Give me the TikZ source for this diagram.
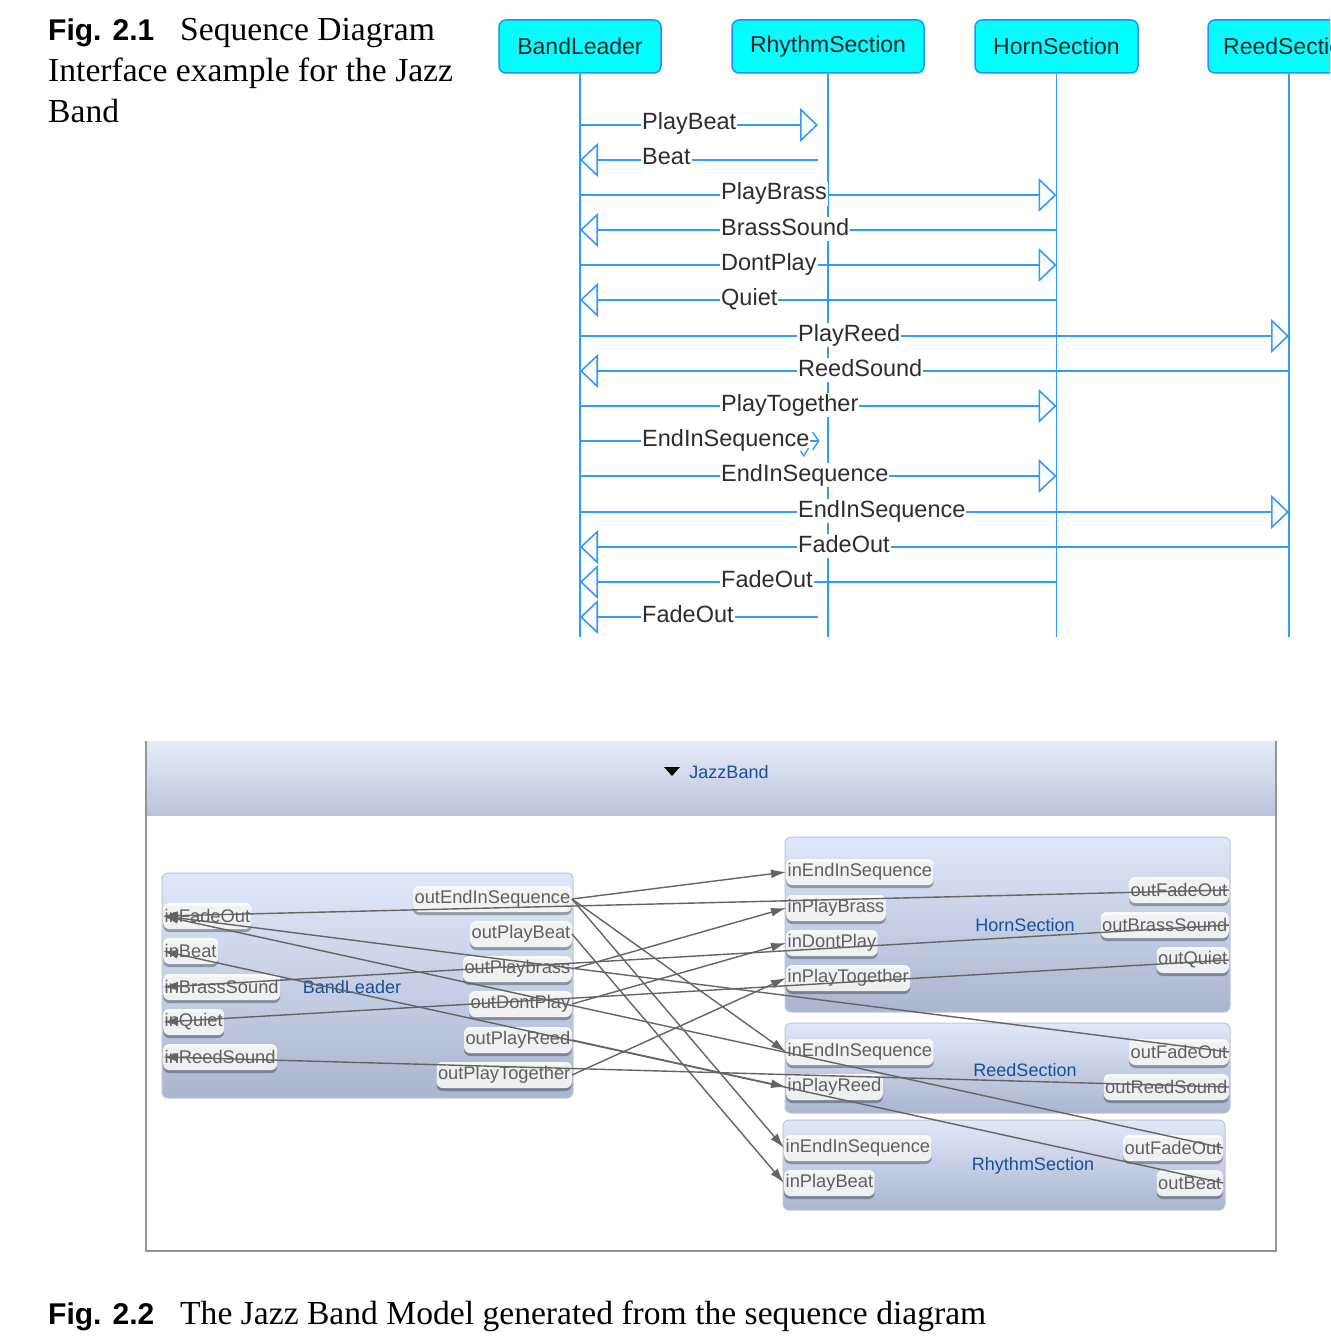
\documentclass[tikz,border=0pt]{standalone}
\usepackage{fontspec}
\setmainfont{Liberation Serif}
\setsansfont{Liberation Sans}
\usetikzlibrary{arrows.meta,shadows}
\definecolor{seqblue}{RGB}{51,153,255}
\definecolor{headcyan}{RGB}{0,255,255}
\definecolor{headborder}{RGB}{30,144,255}
\definecolor{lbltext}{RGB}{45,45,45}
\definecolor{boxtop}{RGB}{224,231,250}
\definecolor{boxbot}{RGB}{170,182,207}
\definecolor{boxedge}{RGB}{190,198,215}
\definecolor{hdrtop}{RGB}{230,235,248}
\definecolor{hdrbot}{RGB}{186,196,218}
\definecolor{modelblue}{RGB}{26,79,150}
\definecolor{porttext}{RGB}{95,95,95}
\definecolor{wire}{RGB}{100,100,100}
\definecolor{framegray}{RGB}{150,150,150}
\begin{document}
\begin{tikzpicture}[x=1pt,y=-1pt,
  seqhead/.style={draw=headborder,line width=1.5pt,fill=headcyan,rounded corners=7pt,
    minimum width=162pt,minimum height=53pt,inner sep=0pt,
    font=\sffamily\fontsize{23}{23}\selectfont,text=black!85},
  life/.style={draw=seqblue,line width=1.6pt},
  msgline/.style={draw=seqblue,line width=1.6pt},
  opentip/.style={-{Triangle[length=18pt,width=34pt,fill=white,line width=1.6pt]}},
  mlabel/.style={fill=white,inner xsep=1pt,inner ysep=1pt,anchor=base west,
    text height=17pt,text depth=5pt,
    font=\sffamily\fontsize{23.5}{23.5}\selectfont,text=lbltext},
  capserif/.style={anchor=base west,inner sep=0pt,font=\fontsize{33.6}{41}\selectfont,text=black},
  capfig/.style={anchor=base west,inner sep=0pt,font=\sffamily\bfseries\fontsize{30}{41}\selectfont,text=black},
  modbox/.style={draw=boxedge,line width=1pt,rounded corners=6pt,top color=boxtop,bottom color=boxbot,inner sep=0pt},
  modname/.style={font=\sffamily\fontsize{18}{18}\selectfont,text=modelblue,inner sep=1pt},
  port/.style={fill=white,fill opacity=0.88,text opacity=1,rounded corners=6pt,
    inner xsep=1.5pt,inner ysep=0pt,minimum height=26pt,
    font=\sffamily\fontsize{18.3}{18.3}\selectfont,text=porttext,
    drop shadow={shadow xshift=0pt,shadow yshift=-3pt,fill=black,opacity=0.3}},
  lport/.style={port,anchor=west},
  rport/.style={port,anchor=east},
  wirest/.style={draw=wire,line width=1.4pt},
  wirearrow/.style={wirest,-{Latex[length=15pt,width=9pt]}}
]
\clip (0,0) rectangle (1330,1343);
\useasboundingbox (0,0) rectangle (1330,1343);
\fill[white] (0,0) rectangle (1330,1343);

% ---------------- Caption Fig 2.1 ----------------
\node[capfig] (c1a) at (48,41) {Fig. 2.1};
\node[capserif] (c1b) at (180,41) {Sequence Diagram};
\node[capserif] (c1c) at (48,82) {Interface example for the Jazz};
\node[capserif] (c1d) at (48,123) {Band};

% ---------------- Sequence diagram ----------------
\node[seqhead] (bl) at (580,46.5) {BandLeader};
\node[seqhead,minimum width=192pt] (rs) at (828,46.5) {RhythmSection};
\node[seqhead,minimum width=163pt] (hs) at (1056.5,46.5) {HornSection};
\node[seqhead] (re) at (1289,46.5) {ReedSection};

\coordinate (bot) at (0,637);
\coordinate (rsA) at (818,637);
\draw[life] (bl.south) -- (bl.south |- bot);
\draw[life] (rs.south) -- (rs.south |- bot);
\draw[life] (hs.south) -- (hs.south |- bot);
\draw[life] (re.south) -- (re.south |- bot);

\coordinate (y1) at (0,125);  \coordinate (y2) at (0,160);
\coordinate (y3) at (0,195);  \coordinate (y4) at (0,230);
\coordinate (y5) at (0,265);  \coordinate (y6) at (0,300);
\coordinate (y7) at (0,336);  \coordinate (y8) at (0,371);
\coordinate (y9) at (0,406);  \coordinate (y10) at (0,441);
\coordinate (y11) at (0,476); \coordinate (y12) at (0,512);
\coordinate (y13) at (0,547); \coordinate (y14) at (0,582);
\coordinate (y15) at (0,617);

\draw[msgline,opentip] (bl.south |- y1) -- (rsA |- y1);
\draw[msgline,opentip] (rsA |- y2) -- (bl.south |- y2);
\draw[msgline,opentip] (bl.south |- y3) -- (hs.south |- y3);
\draw[msgline,opentip] (hs.south |- y4) -- (bl.south |- y4);
\draw[msgline,opentip] (bl.south |- y5) -- (hs.south |- y5);
\draw[msgline,opentip] (hs.south |- y6) -- (bl.south |- y6);
\draw[msgline,opentip] (bl.south |- y7) -- (re.south |- y7);
\draw[msgline,opentip] (re.south |- y8) -- (bl.south |- y8);
\draw[msgline,opentip] (bl.south |- y9) -- (hs.south |- y9);
\draw[msgline] (bl.south |- y10) -- (rsA |- y10);
\draw[msgline,opentip] (bl.south |- y11) -- (hs.south |- y11);
\draw[msgline,opentip] (bl.south |- y12) -- (re.south |- y12);
\draw[msgline,opentip] (re.south |- y13) -- (bl.south |- y13);
\draw[msgline,opentip] (hs.south |- y14) -- (bl.south |- y14);
\draw[msgline,opentip] (rsA |- y15) -- (bl.south |- y15);

\node[mlabel] (l1) at (641,130) {PlayBeat};
\node[mlabel] (l2) at (641,165) {Beat};
\node[mlabel] (l3) at (720,200) {PlayBrass};
\node[mlabel] (l4) at (720,235) {BrassSound};
\node[mlabel] (l5) at (720,270) {DontPlay};
\node[mlabel] (l6) at (720,305) {Quiet};
\node[mlabel] (l7) at (797,341) {PlayReed};
\node[mlabel] (l8) at (797,376) {ReedSound};
\node[mlabel] (l9) at (720,411) {PlayTogether};
\node[mlabel] (l10) at (641,446) {EndInSequence};
\node[mlabel] (l11) at (720,481) {EndInSequence};
\node[mlabel] (l12) at (797,517) {EndInSequence};
\node[mlabel] (l13) at (797,552) {FadeOut};
\node[mlabel] (l14) at (720,587) {FadeOut};
\node[mlabel] (l15) at (641,622) {FadeOut};
\draw[seqblue,line width=1.3pt] (l10.east |- y10) ++(-10,10) -- ++(3,5) -- ++(5,-8);
\draw[seqblue,line width=1.4pt] (l10.east |- y10) ++(2,-9) -- ++(6,9) -- ++(-6,9);

% ---------------- Model diagram ----------------
\shade[top color=hdrtop,bottom color=hdrbot] (146,741) rectangle (1276,815);
\draw[framegray!60,line width=0.8pt] (146,815) -- (1276,815);
\draw[framegray,line width=1.2pt] (146,741) -- (146,1251) -- (1276,1251) -- (1276,741);
\fill[black] (664,767) -- (680,767) -- (672,776) -- cycle;
\node[modname] (jb) at (729,772) {JazzBand};

\node[modbox,minimum width=411pt,minimum height=225pt] (blbox) at (367.5,985.5) {};
\node[modbox,minimum width=445pt,minimum height=175pt] (hsbox) at (1007.5,924.5) {};
\node[modbox,minimum width=445pt,minimum height=90pt] (rebox) at (1007.5,1068) {};
\node[modbox,minimum width=442pt,minimum height=90pt] (rsbox) at (1004,1165) {};

\node[modname] (blname) at (352,987) {BandLeader};
\node[modname] (hsname) at (1025,925) {HornSection};
\node[modname] (rename) at (1025,1070) {ReedSection};
\node[modname] (rsname) at (1033,1166) {RhythmSection};

% BandLeader ports
\node[lport] (blInFade) at (163,916) {inFadeOut};
\node[lport] (blInBeat) at (163,951) {inBeat};
\node[lport] (blInBrass) at (163,987) {inBrassSound};
\node[lport] (blInQuiet) at (163,1022) {inQuiet};
\node[lport] (blInReed) at (163,1057) {inReedSound};
\node[rport] (blOutEnd) at (572,899) {outEndInSequence};
\node[rport] (blOutBeat) at (572,934) {outPlayBeat};
\node[rport] (blOutBrass) at (572,969) {outPlaybrass};
\node[rport] (blOutDont) at (572,1004) {outDontPlay};
\node[rport] (blOutReed) at (572,1040) {outPlayReed};
\node[rport] (blOutTog) at (572,1075) {outPlayTogether};
% HornSection ports
\node[lport] (hsInEnd) at (786,872) {inEndInSequence};
\node[lport] (hsInBrass) at (786,908) {inPlayBrass};
\node[lport] (hsInDont) at (786,943) {inDontPlay};
\node[lport] (hsInTog) at (786,978) {inPlayTogether};
\node[rport] (hsOutFade) at (1229,890) {outFadeOut};
\node[rport] (hsOutBrass) at (1229,925) {outBrassSound};
\node[rport] (hsOutQuiet) at (1229,960) {outQuiet};
% ReedSection ports
\node[lport] (reInEnd) at (786,1052) {inEndInSequence};
\node[lport] (reInReed) at (786,1087) {inPlayReed};
\node[rport] (reOutFade) at (1229,1052) {outFadeOut};
\node[rport] (reOutReed) at (1229,1087) {outReedSound};
% RhythmSection ports
\node[lport] (rsInEnd) at (784,1148) {inEndInSequence};
\node[lport] (rsInBeat) at (784,1183) {inPlayBeat};
\node[rport] (rsOutFade) at (1223,1148) {outFadeOut};
\node[rport] (rsOutBeat) at (1223,1183) {outBeat};

% connectors
\draw[wirearrow] (blOutEnd.east) -- (hsInEnd.west);
\draw[wirearrow] (blOutEnd.east) -- (reInEnd.west);
\draw[wirearrow] (blOutEnd.east) -- (rsInEnd.west);
\draw[wirearrow] (blOutBeat.east) -- (rsInBeat.west);
\draw[wirearrow] (blOutBrass.east) -- (hsInBrass.west);
\draw[wirearrow] (blOutDont.east) -- (hsInDont.west);
\draw[wirearrow] (blOutReed.east) -- (reInReed.west);
\draw[wirearrow] (blOutTog.east) -- (hsInTog.west);
\draw[wirearrow] (hsOutFade.east) -- (blInFade.west);
\draw[wirearrow] (reOutFade.east) -- (blInFade.west);
\draw[wirearrow] (rsOutFade.east) -- (blInFade.west);
\draw[wirearrow] (rsOutBeat.east) -- (blInBeat.west);
\draw[wirearrow] (hsOutBrass.east) -- (blInBrass.west);
\draw[wirearrow] (hsOutQuiet.east) -- (blInQuiet.west);
\draw[wirearrow] (reOutReed.east) -- (blInReed.west);

% ---------------- Caption Fig 2.2 ----------------
\node[capfig] (c2a) at (48,1324) {Fig. 2.2};
\node[capserif] (c2b) at (180,1324) {The Jazz Band Model generated from the sequence diagram};
\end{tikzpicture}
\end{document}
